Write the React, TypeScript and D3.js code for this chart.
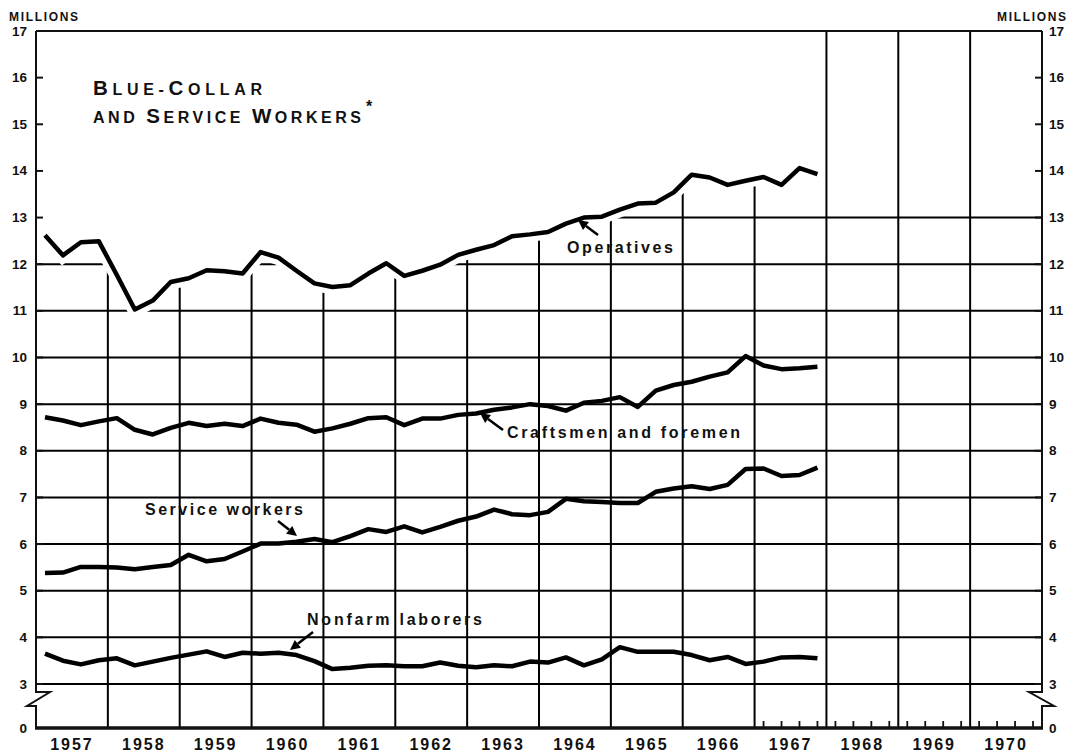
import React, { useEffect, useRef } from 'react'
import * as d3 from 'd3'

// quarterly figures, 1957 Q1 .. 1967 Q4, millions of persons
const firstYear = 1957
const yearLabels = [1957, 1958, 1959, 1960, 1961, 1962, 1963, 1964, 1965, 1966, 1967, 1968, 1969, 1970]
const operatives = [
	12.62, 12.19, 12.47, 12.49, 11.77, 11.03, 11.22, 11.62, 11.7, 11.87,
	11.85, 11.8, 12.26, 12.14, 11.86, 11.59, 11.51, 11.55, 11.8, 12.02,
	11.75, 11.86, 11.99, 12.2, 12.31, 12.41, 12.6, 12.64, 12.69, 12.87,
	13.0, 13.02, 13.17, 13.3, 13.32, 13.54, 13.92, 13.86, 13.7, 13.79,
	13.87, 13.7, 14.06, 13.93,
]
const craftsmen = [
	8.72, 8.65, 8.55, 8.63, 8.7, 8.45, 8.35, 8.49, 8.6, 8.53,
	8.58, 8.53, 8.69, 8.6, 8.56, 8.41, 8.48, 8.58, 8.7, 8.72,
	8.55, 8.69, 8.69, 8.77, 8.8, 8.88, 8.93, 9.0, 8.96, 8.86,
	9.03, 9.07, 9.15, 8.94, 9.29, 9.41, 9.48, 9.59, 9.68, 10.03,
	9.83, 9.75, 9.77, 9.8,
]
const serviceWorkers = [
	5.38, 5.39, 5.51, 5.51, 5.5, 5.46, 5.51, 5.55, 5.77, 5.63,
	5.68, 5.84, 6.01, 6.01, 6.05, 6.11, 6.04, 6.17, 6.32, 6.26,
	6.38, 6.25, 6.37, 6.5, 6.59, 6.74, 6.64, 6.62, 6.69, 6.97,
	6.92, 6.9, 6.88, 6.88, 7.12, 7.19, 7.24, 7.18, 7.27, 7.61,
	7.62, 7.46, 7.48, 7.64,
]
const nonfarmLaborers = [
	3.65, 3.5, 3.42, 3.51, 3.55, 3.4, 3.48, 3.56, 3.63, 3.7,
	3.58, 3.67, 3.65, 3.67, 3.62, 3.49, 3.32, 3.35, 3.39, 3.4,
	3.38, 3.38, 3.46, 3.39, 3.36, 3.4, 3.38, 3.48, 3.46, 3.57,
	3.4, 3.53, 3.79, 3.69, 3.69, 3.69, 3.62, 3.51, 3.58, 3.43,
	3.48, 3.57, 3.58, 3.55,
]
const valueTicks = [3, 4, 5, 6, 7, 8, 9, 10, 11, 12, 13, 14, 15, 16, 17]
const gridValues = [3, 4, 5, 6, 7, 8, 9, 10, 11, 12, 13]
const quarterTickYears = [1967, 1968, 1969, 1970]
const seriesNames = ['Operatives', 'Craftsmen and foremen', 'Service workers', 'Nonfarm laborers']
// title, split into [text, isLargeCap] runs for the small-caps setting
const titleLine1: [string, boolean][] = [['B', true], ['LUE-', false], ['C', true], ['OLLAR', false]]
const titleLine2: [string, boolean][] = [['AND ', false], ['S', true], ['ERVICE ', false], ['W', true], ['ORKERS', false]]

const W = 1072
const H = 754
const FONT = '"Liberation Sans", Arial, sans-serif'

export default function App() {
	const ref = useRef<SVGSVGElement>(null)

	useEffect(() => {
		const svg = d3.select(ref.current)
		svg.selectAll('*').remove()

		const x = d3.scaleLinear().domain([1957, 1971]).range([36, 1042])
		const y = d3.scaleLinear().domain([0, 3, 17]).range([728, 684, 31])
		const qx = (i: number) => x(firstYear + (i + 0.5) / 4)
		const left = x(1957)
		const right = x(1971)
		const top = y(17)
		const bottom = y(0)

		// grid
		const grid = svg.append('g').attr('stroke', '#000')
		grid.selectAll('line.h').data(gridValues).enter().append('line')
			.attr('class', 'h')
			.attr('x1', left).attr('x2', right)
			.attr('y1', (d) => y(d)).attr('y2', (d) => y(d))
			.attr('stroke-width', 2)
		grid.selectAll('line.v').data(d3.range(1958, 1971)).enter().append('line')
			.attr('class', 'v')
			.attr('x1', (d) => x(d)).attr('x2', (d) => x(d))
			.attr('y1', top).attr('y2', bottom)
			.attr('stroke-width', 2)

		// the grid is blanked above the operatives curve (with a small gap)
		const dataEnd = x(1968) - 4
		const ext: [number, number][] = [
			[left, y(operatives[0])],
			...operatives.map((v, i) => [qx(i), y(v)] as [number, number]),
			[dataEnd, y(operatives[operatives.length - 1])],
		]
		svg.append('path')
			.attr('d', d3.area<[number, number]>().x((d) => d[0]).y0(top - 5).y1((d) => d[1])(ext))
			.attr('fill', '#fff')
		svg.append('path')
			.attr('d', d3.line()(ext))
			.attr('fill', 'none').attr('stroke', '#fff').attr('stroke-width', 15)

		// frame
		const frame = svg.append('g').attr('fill', 'none').attr('stroke', '#111').attr('stroke-width', 2)
		frame.append('line').attr('x1', left).attr('x2', right).attr('y1', top).attr('y2', top)
		const b1 = y(3) + 8
		const b2 = y(3) + 22
		frame.append('path').attr('d', `M${left},${top}V${b1}H${left + 14}L${left - 9},${b2}H${left}V${bottom}`)
		frame.append('path').attr('d', `M${right},${top}V${b1}H${right - 13}L${right + 12},${b2}H${right}V${bottom}`)
		svg.append('line').attr('x1', left - 1).attr('x2', right + 1).attr('y1', bottom).attr('y2', bottom)
			.attr('stroke', '#111').attr('stroke-width', 3.5)

		// value ticks both sides
		frame.selectAll('line.lt').data(valueTicks).enter().append('line')
			.attr('class', 'lt')
			.attr('x1', left).attr('x2', left + 7).attr('y1', (d) => y(d)).attr('y2', (d) => y(d))
		frame.selectAll('line.rt').data(valueTicks).enter().append('line')
			.attr('class', 'rt')
			.attr('x1', right - 7).attr('x2', right).attr('y1', (d) => y(d)).attr('y2', (d) => y(d))

		// quarter ticks on the time axis
		const qTicks = quarterTickYears.flatMap((yr) => [0, 1, 2, 3].map((q) => yr + (q + 0.5) / 4))
		svg.selectAll('line.qt').data(qTicks).enter().append('line')
			.attr('class', 'qt')
			.attr('x1', (d) => x(d)).attr('x2', (d) => x(d))
			.attr('y1', bottom).attr('y2', bottom - 7)
			.attr('stroke', '#111').attr('stroke-width', 1.8)

		// axis labels
		const labels = svg.append('g').attr('font-family', FONT).attr('font-weight', 'bold').attr('fill', '#111')
		const tickLabels = [0, ...valueTicks]
		labels.selectAll('text.l').data(tickLabels).enter().append('text')
			.attr('class', 'l')
			.attr('x', left - 9).attr('y', (d) => y(d) + 4.5)
			.attr('text-anchor', 'end').attr('font-size', 13.5)
			.text((d) => d)
		labels.selectAll('text.r').data(tickLabels).enter().append('text')
			.attr('class', 'r')
			.attr('x', right + 7).attr('y', (d) => y(d) + 4.5)
			.attr('font-size', 13.5)
			.text((d) => d)
		labels.selectAll('text.yr').data(yearLabels).enter().append('text')
			.attr('class', 'yr')
			.attr('x', (d) => x(d + 0.5)).attr('y', 750)
			.attr('text-anchor', 'middle').attr('font-size', 16).attr('letter-spacing', 2)
			.text((d) => d)
		labels.append('text').attr('x', 9).attr('y', 21).attr('font-size', 12)
			.attr('textLength', 69).text('MILLIONS')
		labels.append('text').attr('x', 997).attr('y', 21).attr('font-size', 12)
			.attr('textLength', 69).text('MILLIONS')

		// title in small caps
		const smallCaps = (runs: [string, boolean][], xx: number, yy: number, len: number) => {
			const el = labels.append('text').attr('x', xx).attr('y', yy).attr('font-size', 16)
				.attr('textLength', len).attr('lengthAdjust', 'spacing')
			runs.forEach(([t, big]) => {
				el.append('tspan').attr('font-size', big ? 20.5 : 16).text(t)
			})
		}
		smallCaps(titleLine1, 93, 95, 169)
		smallCaps(titleLine2, 93, 123, 268)
		labels.append('text').attr('x', 366).attr('y', 112).attr('font-size', 16).text('*')

		// series
		const line = d3.line<number>().x((_, i) => qx(i)).y((d) => y(d))
		const series = [operatives, craftsmen, serviceWorkers, nonfarmLaborers]
		svg.selectAll('path.series').data(series).enter().append('path')
			.attr('class', 'series')
			.attr('d', (d) => line(d))
			.attr('fill', 'none').attr('stroke', '#000').attr('stroke-width', 4.5)
			.attr('stroke-linejoin', 'round')

		// series labels with arrows
		const anno = [
			{ tx: 567, ty: 253, len: 106, from: [598, 235], to: [578, 220] },
			{ tx: 507, ty: 438, len: 233, from: [503, 430], to: [480, 413] },
			{ tx: 145, ty: 515, len: 158, from: [278, 521], to: [297, 536] },
			{ tx: 307, ty: 625, len: 175, from: [313, 632], to: [290, 650] },
		]
		anno.forEach((a, i) => {
			labels.append('text').attr('x', a.tx).attr('y', a.ty).attr('font-size', 16)
				.attr('textLength', a.len).attr('lengthAdjust', 'spacing')
				.text(seriesNames[i])
			const [x1, y1] = a.from
			const [x2, y2] = a.to
			const ang = Math.atan2(y2 - y1, x2 - x1)
			const hl = 10
			const hw = 5
			const bx = x2 - hl * Math.cos(ang)
			const by = y2 - hl * Math.sin(ang)
			svg.append('line').attr('x1', x1).attr('y1', y1).attr('x2', bx).attr('y2', by)
				.attr('stroke', '#000').attr('stroke-width', 2.5)
			svg.append('path')
				.attr('d', `M${x2},${y2}L${bx - hw * Math.sin(ang)},${by + hw * Math.cos(ang)}L${bx + hw * Math.sin(ang)},${by - hw * Math.cos(ang)}Z`)
				.attr('fill', '#000')
		})
	}, [])

	return (
		<svg ref={ref} width={W} height={H} viewBox={`0 0 ${W} ${H}`}
			style={{ position: 'absolute', left: 0, top: 0, background: '#fff' }} />
	)
}
